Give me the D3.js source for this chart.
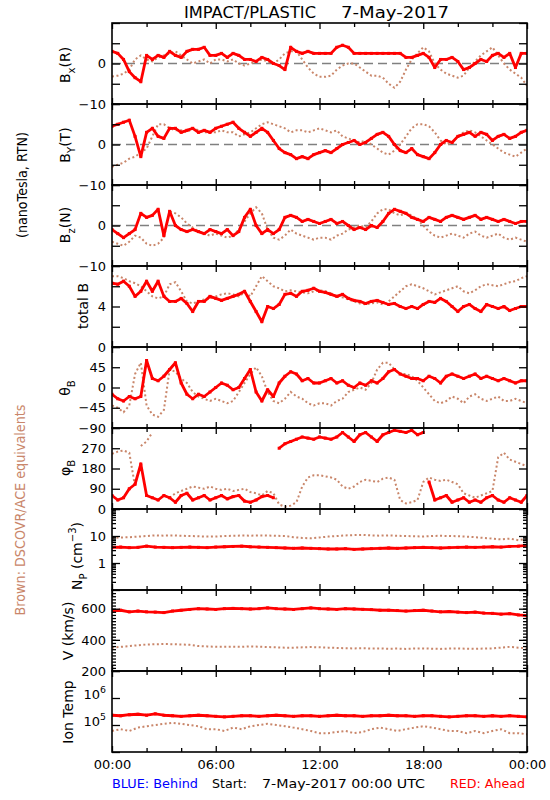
<!DOCTYPE html>
<html><head><meta charset="utf-8">
<script src="https://cdn.jsdelivr.net/npm/d3@7"></script>
<style>body{margin:0;background:#fff}</style>
</head><body><svg id="c" width="550" height="800"></svg>
<script>
// ---------- DATA ----------
// magnetic field samples every 20 min (0..24 h), plasma samples every 30 min
const hoursB = d3.range(73).map(i => i / 3);
const hoursP = d3.range(49).map(i => i / 2);

const bxRed = [3,2.5,1,-2,-3.5,-4.5,2,1,2,1.5,3,2,
  1.5,3,3.5,3.5,4,2,2,2.5,1.5,2.5,2,1,
  1,0.5,1.5,1,0,-0.5,-1.5,4,3,2.5,3,2.5,
  2.5,2.5,2.5,4,4.5,4,2.5,2.5,2.5,2.5,2.5,2.5,
  2.5,2.5,2.5,1.5,1.5,2,2.5,1.5,-1,1,1,1.5,
  0.5,-1.5,-1,0,1,0.5,2,2.5,1.5,2.5,-1,2.5,
  2.5];
const bxBrown = [-3.2,-3,-2.5,-1.5,1,2,1,0.5,1.5,2,2.5,3,
  2,1,0,0.5,1,0,1,1,0.5,1,0,-0.5,
  0,0.5,1,0.5,0,1,2.5,3,3,1,-1,-2.5,
  -3.3,-3.3,-3,-1.5,-0.5,0,0,-1,-2,-3,-3,-3.5,
  -5,-6,-4.5,-1.5,1,2.5,4,3,0,-1.5,-2.5,-3,
  -3.5,-3,-1,0.5,2,3,4,2,0,-1.5,-2.5,-3.5,
  -5.5];
const byRed = [4.5,5,5.5,6,2,-3,3,4,2,1.5,4,4,
  3,3.5,4,3,3.5,3,4,4.5,5,5.5,4,3,
  2,3,4,3,1,-1,-2,-2.5,-3.5,-3,-3.5,-2.5,
  -2,-1.5,-2,-1,0,0.5,1,0,0.5,1.5,2.5,3,
  2,0,-1.5,-2,-1,-2.5,-3,-3.5,-2,0,1,0.5,
  2,2.5,3,2,3,2.5,1,2,2.5,1.5,2,3,
  3.5];
const byBrown = [-5.5,-5,-4.5,-3.5,-3,-2,-1,2,5,5,4,3.5,
  3.5,3,4,3.5,3,3,3,3.5,3,3,2,2.5,
  3,4,5,5.5,5,4.5,4,3,3.5,3.5,3,3.5,
  4,3.5,3,3.5,2,1.5,1,0.5,1,0,-1,-2,
  -2.5,-1.5,0,2,4,5,5,4.5,3,1,0,0.5,
  2,3,3.5,3,2,1,0,-1,-2,-2.5,-3,-2,
  -1];
const bzRed = [-1,-2,-3,-2,-1,3,2,2.5,4,-2.5,3.5,0,
  -1,-1.5,-1,-1.5,-2,-1,-1.5,-2,-1,-2.5,-1.5,2,
  4,0,-2,-1,-2,-1,2,2.5,2,1,1.5,1,
  0.5,1,1.5,0.5,1,0,-1,-0.5,-1,0,-0.5,1,
  3,4,3.5,3,2,1.5,1,2,1.5,1,2,2.5,
  2,1.5,2,2.5,1.5,2,1.5,1,1.5,1,0.5,1,
  1];
const bzBrown = [-4,-4.5,-5,-4,-2.5,-3,-4.5,-5,-4.5,-3,3.5,3,
  2,0.5,-0.5,-1.5,-2,-2.5,-2,-2.5,-3,-2.5,-1,1,
  3,4.5,3,-1,-3,-3.5,-2.5,-1,-2,-2.5,-3,-3.5,
  -3,-3,-3.5,-2.5,-2,-1,-0.5,0,-0.5,1,3,4,
  4,3,2.5,3,2.5,1.5,0,-1.5,-2.5,-3,-2.5,-2,
  -2.5,-3,-2,-1.5,-2.5,-3,-2.5,-2,-3,-3.5,-3,-3.5,
  -4];
const btRed = [6.3,6.2,6.5,6,5,5.5,6.5,5.5,6.5,5,4.5,4.5,
  4.8,4.3,3.5,4.5,4.5,5,4.8,4.6,4.8,5,5.2,5.5,
  4.5,3.5,2.5,4,3.8,4.2,5.2,5.3,5,5.5,5.6,5.8,
  5.5,5.4,5.2,5,5.2,4.8,4.6,4.5,4.3,4.5,4.6,4.4,
  4.2,4.3,4,3.8,4,3.8,4.2,4.5,4.4,4.8,4.5,4,
  3.5,4,4.2,3.8,3.5,4.2,4,3.8,4,3.6,3.8,4,
  4];
const btBrown = [7,7,6.8,6.5,6.3,6,5.5,5,4.8,5,6.2,6.4,
  5.5,4.5,4.3,4.5,4.7,4.8,5,5.2,5.3,5.2,5,5.4,
  5,6,7,6.5,6,5.8,5.5,5.6,5.5,5.4,5.3,5.5,
  5.6,5.5,5.3,5,4.9,4.7,4.5,4.3,4.2,4.3,4.4,4.2,
  4.5,5,5.5,6,6.2,6,5.8,5.5,5.2,5.4,5.6,5.8,
  6,5.5,5.3,5.6,6,6.2,6.1,6,6.2,6.4,6.5,6.8,
  7];
const thRed = [-15,-25,-30,-20,-25,-20,60,20,15,25,40,55,
  10,-15,-25,-15,-20,-10,0,10,5,-5,0,20,
  40,-10,-30,-5,-20,10,25,35,30,15,20,10,
  10,15,20,10,15,5,0,10,5,15,10,20,
  35,40,30,25,20,20,15,25,20,10,25,30,
  25,20,25,30,20,25,20,15,20,15,10,15,
  15];
const thBrown = [-40,-45,-55,-40,30,55,-40,-60,-65,-50,40,35,
  20,10,-10,-20,-25,-30,-25,-30,-35,-30,-10,10,
  30,45,25,-10,-30,-35,-25,-10,-20,-25,-35,-40,
  -35,-35,-40,-30,-25,-10,-5,0,-5,10,40,55,
  55,40,30,30,25,15,0,-15,-30,-35,-30,-20,
  -25,-35,-20,-15,-25,-30,-25,-20,-30,-30,-25,-30,
  -35];
const phRed = [60,40,50,90,110,200,60,50,40,60,50,30,
  60,70,40,50,60,40,50,60,45,55,60,35,
  30,40,55,60,50,270,290,300,310,320,315,310,
  320,315,310,320,340,320,300,330,340,320,300,330,
  340,350,345,340,350,330,340,120,40,50,60,30,
  40,50,30,40,30,50,60,40,30,50,40,30,
  60];
const phBrown = [245,255,260,250,100,280,300,340,40,60,50,70,
  80,90,100,95,90,100,90,85,90,80,85,90,
  75,70,60,80,70,20,10,15,30,100,140,150,
  150,145,140,130,100,90,100,120,130,125,120,135,
  140,130,40,25,30,40,120,140,130,125,130,120,
  110,70,60,50,60,70,80,230,250,220,210,200,
  190];
const npRed = [3.8,3.9,3.7,3.8,4.2,3.9,3.8,3.7,3.8,3.9,3.8,3.7,3.9,4,4.1,4.2,4,3.9,3.8,3.7,
  3.6,3.5,3.6,3.5,3.4,3.3,3.3,3.4,3.2,3.3,3.4,3.5,3.6,3.5,3.6,3.7,3.8,3.7,3.6,3.7,
  3.8,3.9,3.8,3.9,4,3.9,4.1,4.2,4.5];
const npBrown = [8.5,8.8,9,9.5,10,10.5,10.3,10.5,10.2,10,9.8,9.5,9.6,10,10.2,10.4,10.3,10.5,10.4,10.2,
  10,9,8.5,8.2,8.8,9.5,10,10.5,10.8,11,10.5,10.3,10.5,10.2,10,9.8,9.6,10,10.2,10,
  9.8,9.5,9,8.5,8,7.5,8,7,8];
const vRed = [585,590,580,585,580,578,575,585,590,595,600,598,595,600,602,600,598,600,605,600,
  598,595,600,605,600,598,595,600,598,596,594,590,590,588,585,588,590,585,580,582,
  578,575,578,572,570,565,568,560,555];
const vBrown = [350,355,360,365,370,372,373,372,370,368,360,358,355,355,356,355,358,356,354,352,
  350,350,352,354,352,350,348,346,345,346,344,345,343,344,342,344,345,343,342,344,
  345,343,342,344,345,350,355,350,345];
const tRed = [2.3e5,2.2e5,2.4e5,2.5e5,2.3e5,2.6e5,2.3e5,2.2e5,2.1e5,2.2e5,2.3e5,2.2e5,2.1e5,2.0e5,2.1e5,2.2e5,2.2e5,2.1e5,2.2e5,2.3e5,
  2.2e5,2.1e5,2.2e5,2.2e5,2.1e5,2.2e5,2.3e5,2.2e5,2.2e5,2.1e5,2.2e5,2.2e5,2.3e5,2.2e5,2.2e5,2.1e5,2.2e5,2.2e5,2.1e5,2.0e5,
  2.1e5,2.2e5,2.2e5,2.1e5,2.2e5,2.1e5,2.2e5,2.1e5,2.0e5];
const tBrown = [6e4,7e4,6e4,8e4,9e4,1.0e5,1.1e5,1.2e5,1.1e5,1.0e5,9e4,7e4,7e4,6e4,8e4,7e4,9e4,1.0e5,1.1e5,1.0e5,
  9e4,8e4,7e4,6e4,5e4,5e4,5.5e4,6e4,5e4,5.5e4,7e4,8e4,7e4,6e4,7e4,8e4,9e4,8e4,7e4,6e4,
  6e4,5e4,6e4,5e4,6e4,7e4,5e4,5e4,4.5e4];

const xTickHours = [0, 6, 12, 18, 24];
const xTickLabels = ["00:00", "06:00", "12:00", "18:00", "00:00"];

// ---------- LAYOUT ----------
const L = 112, R = 527, TOP = 23, PH = 81;
const RED = "#ff0000", BROWN = "#c9866a";
const FF = "'DejaVu Sans', Verdana, sans-serif";
const svg = d3.select("#c");
svg.append("rect").attr("width", 550).attr("height", 800).attr("fill", "#fff");

const x = d3.scaleLinear().domain([0, 24]).range([L, R]);

function rich(t, segs, fs) {
  let off = 0;
  segs.forEach(([s, m]) => {
    const target = m === "sub" ? fs * 0.38 : m === "sup" ? -fs * 0.45 : 0;
    const ts = t.append("tspan").text(s).attr("dy", target - off);
    if (m !== "n") ts.attr("font-size", fs * 0.72);
    off = target;
  });
}

const logMinor = (lo, hi) => {
  const out = [];
  for (let e = lo; e < hi; e++) for (let k = 2; k <= 9; k++) out.push(k * Math.pow(10, e));
  return out;
};

const panels = [
  { t: hoursB, red: bxRed, brown: bxBrown, log: false, domain: [-10, 10], major: [-10, -5, 0, 5, 10], minor: [], labels: [-10, 0], zero: true,
    label: [["B", "n"], ["x", "sub"], ["(R)", "n"]], lx: 70, ly: 65 },
  { t: hoursB, red: byRed, brown: byBrown, log: false, domain: [-10, 10], major: [-10, -5, 0, 5, 10], minor: [], labels: [-10, 0], zero: true,
    label: [["B", "n"], ["Y", "sub"], ["(T)", "n"]], lx: 70, ly: 145 },
  { t: hoursB, red: bzRed, brown: bzBrown, log: false, domain: [-10, 10], major: [-10, -5, 0, 5, 10], minor: [], labels: [-10, 0], zero: true,
    label: [["B", "n"], ["z", "sub"], ["(N)", "n"]], lx: 70, ly: 225 },
  { t: hoursB, red: btRed, brown: btBrown, log: false, domain: [0, 8], major: [0, 2, 4, 6, 8], minor: [], labels: [0, 4],
    label: [["total B", "n"]], lx: 88, ly: 306 },
  { t: hoursB, red: thRed, brown: thBrown, log: false, domain: [-90, 90], major: [-90, -45, 0, 45, 90], minor: [], labels: [-90, -45, 0, 45],
    label: [["θ", "n"], ["B", "sub"]], lx: 70, ly: 388 },
  { t: hoursB, red: phRed, brown: phBrown, log: false, wrap: true, domain: [0, 360], major: [0, 90, 180, 270, 360], minor: [], labels: [0, 90, 180, 270],
    label: [["φ", "n"], ["B", "sub"]], lx: 70, ly: 468 },
  { t: hoursP, red: npRed, brown: npBrown, log: true, domain: [0.1, 100], major: [0.1, 1, 10, 100], minor: logMinor(-1, 2), labels: [1, 10],
    label: [["N", "n"], ["P", "sub"], [" (cm", "n"], ["−3", "sup"], [")", "n"]], lx: 82, ly: 556 },
  { t: hoursP, red: vRed, brown: vBrown, log: false, domain: [200, 720], major: [200, 400, 600], minor: d3.range(220, 720, 20), labels: [200, 400, 600],
    label: [["V (km/s)", "n"]], lx: 73, ly: 631 },
  { t: hoursP, red: tRed, brown: tBrown, log: true, domain: [1e4, 1e7], major: [1e4, 1e5, 1e6, 1e7], minor: [], labels: [1e5, 1e6], sup: true,
    label: [["Ion Temp", "n"]], lx: 73, ly: 712 },
];

const fmt = v => (v < 0 ? "−" + Math.abs(v) : String(v));

panels.forEach((p, i) => {
  const top = TOP + i * PH, bot = top + PH;
  const y = (p.log ? d3.scaleLog() : d3.scaleLinear()).domain(p.domain).range([bot, top]);
  const g = svg.append("g");
  const cid = "clip" + i;
  svg.append("clipPath").attr("id", cid).append("rect")
    .attr("x", L).attr("y", top).attr("width", R - L).attr("height", PH);
  const plot = g.append("g").attr("clip-path", `url(#${cid})`);

  if (p.zero) {
    plot.append("line").attr("x1", L).attr("x2", R).attr("y1", y(0)).attr("y2", y(0))
      .attr("stroke", "#808080").attr("stroke-width", 1.6).attr("stroke-dasharray", "9,5");
  }

  const segs = arr => {
    const pts = arr.map((v, k) => [p.t[k], v]);
    if (!p.wrap) return [pts];
    const out = [[pts[0]]];
    for (let k = 1; k < pts.length; k++) {
      if (Math.abs(pts[k][1] - pts[k - 1][1]) > 150) out.push([]);
      out[out.length - 1].push(pts[k]);
    }
    return out;
  };
  const line = d3.line().x(d => x(d[0])).y(d => y(d[1]));

  segs(p.brown).forEach(s => {
    plot.append("path").attr("d", line(s)).attr("fill", "none").attr("stroke", BROWN)
      .attr("stroke-width", 2).attr("stroke-dasharray", "2,2.5");
    if (s.length === 1) plot.append("rect").attr("x", x(s[0][0]) - 1).attr("y", y(s[0][1]) - 1)
      .attr("width", 2).attr("height", 2).attr("fill", BROWN);
  });
  segs(p.red).forEach(s => {
    plot.append("path").attr("d", line(s)).attr("fill", "none").attr("stroke", RED)
      .attr("stroke-width", 2.8).attr("stroke-linejoin", "round");
  });
  plot.selectAll("rect.rd").data(p.red).join("rect").attr("class", "rd")
    .attr("x", (d, k) => x(p.t[k]) - 1.5).attr("y", d => y(d) - 1.5)
    .attr("width", 3).attr("height", 3).attr("fill", RED);

  // y axes (ticks inward, both sides)
  const yMaj = d3.axisLeft(y).tickValues(p.major).tickSize(-8).tickFormat("");
  const yMin = d3.axisLeft(y).tickValues(p.minor).tickSize(-4).tickFormat("");
  const yMajR = d3.axisRight(y).tickValues(p.major).tickSize(-8).tickFormat("");
  const yMinR = d3.axisRight(y).tickValues(p.minor).tickSize(-4).tickFormat("");
  [[yMaj, L], [yMin, L], [yMajR, R], [yMinR, R]].forEach(([ax, xx]) => {
    const a = g.append("g").attr("transform", `translate(${xx},0)`).call(ax);
    a.select(".domain").remove();
    a.selectAll("line").attr("stroke", "#000").attr("stroke-width", 1.3);
  });
  const yLab = d3.axisLeft(y).tickValues(p.labels).tickSize(0).tickPadding(6)
    .tickFormat(v => p.sup ? "" : fmt(v));
  const la = g.append("g").attr("transform", `translate(${L},0)`).call(yLab);
  la.select(".domain").remove();
  la.selectAll("text").attr("font-family", FF).attr("font-size", 13).attr("fill", "#000");
  if (p.sup) {
    la.selectAll("text").each(function (v) {
      rich(d3.select(this), [["10", "n"], [String(Math.round(Math.log10(v))), "sup"]], 13);
    });
  }

  // x ticks top and bottom, inward
  const hrsMaj = [0, 6, 12, 18, 24], hrsMin = [2, 4, 8, 10, 14, 16, 20, 22];
  [[d3.axisBottom, bot], [d3.axisTop, top]].forEach(([fn, yy]) => {
    [[hrsMaj, -6], [hrsMin, -4]].forEach(([vals, sz]) => {
      const a = g.append("g").attr("transform", `translate(0,${yy})`)
        .call(fn(x).tickValues(vals).tickSize(sz).tickFormat(""));
      a.select(".domain").remove();
      a.selectAll("line").attr("stroke", "#000").attr("stroke-width", 1.3);
    });
  });

  g.append("rect").attr("x", L).attr("y", top).attr("width", R - L).attr("height", PH)
    .attr("fill", "none").attr("stroke", "#000").attr("stroke-width", 1.6);

  const lt = g.append("text").attr("transform", `translate(${p.lx},${p.ly}) rotate(-90)`)
    .attr("text-anchor", "middle").attr("font-family", FF).attr("font-size", 14).attr("fill", "#000");
  rich(lt, p.label, 14);
});

// bottom time axis labels
const xa = svg.append("g").attr("transform", `translate(0,${TOP + 9 * PH})`)
  .call(d3.axisBottom(x).tickValues(xTickHours).tickSize(0).tickPadding(8)
    .tickFormat((d, k) => xTickLabels[k]));
xa.select(".domain").remove();
xa.selectAll("text").attr("font-family", FF).attr("font-size", 13).attr("fill", "#000");

// title
svg.append("text").attr("x", 184).attr("y", 18).attr("font-family", FF).attr("font-size", 16)
  .attr("textLength", 132).attr("lengthAdjust", "spacingAndGlyphs").text("IMPACT/PLASTIC");
svg.append("text").attr("x", 341).attr("y", 18).attr("font-family", FF).attr("font-size", 16)
  .attr("textLength", 108).attr("lengthAdjust", "spacingAndGlyphs").text("7-May-2017");

// left side notes
svg.append("text").attr("transform", "translate(27,185) rotate(-90)").attr("text-anchor", "middle")
  .attr("font-family", FF).attr("font-size", 14).attr("textLength", 106).attr("lengthAdjust", "spacingAndGlyphs")
  .text("(nanoTesla, RTN)");
svg.append("text").attr("transform", "translate(25,510) rotate(-90)").attr("text-anchor", "middle")
  .attr("font-family", FF).attr("font-size", 14).attr("fill", BROWN).attr("textLength", 211).attr("lengthAdjust", "spacingAndGlyphs")
  .text("Brown: DSCOVR/ACE equivalents");

// footer
svg.append("text").attr("x", 112).attr("y", 788).attr("font-family", FF).attr("font-size", 13)
  .attr("fill", "#0000ff").attr("textLength", 86).attr("lengthAdjust", "spacingAndGlyphs").text("BLUE: Behind");
svg.append("text").attr("x", 212).attr("y", 788).attr("font-family", FF).attr("font-size", 13)
  .attr("textLength", 35).attr("lengthAdjust", "spacingAndGlyphs").text("Start:");
svg.append("text").attr("x", 262).attr("y", 788).attr("font-family", FF).attr("font-size", 13)
  .attr("textLength", 163).attr("lengthAdjust", "spacingAndGlyphs").text("7-May-2017 00:00 UTC");
svg.append("text").attr("x", 450).attr("y", 788).attr("font-family", FF).attr("font-size", 13)
  .attr("fill", RED).attr("textLength", 75).attr("lengthAdjust", "spacingAndGlyphs").text("RED: Ahead");
</script>
</body></html>
